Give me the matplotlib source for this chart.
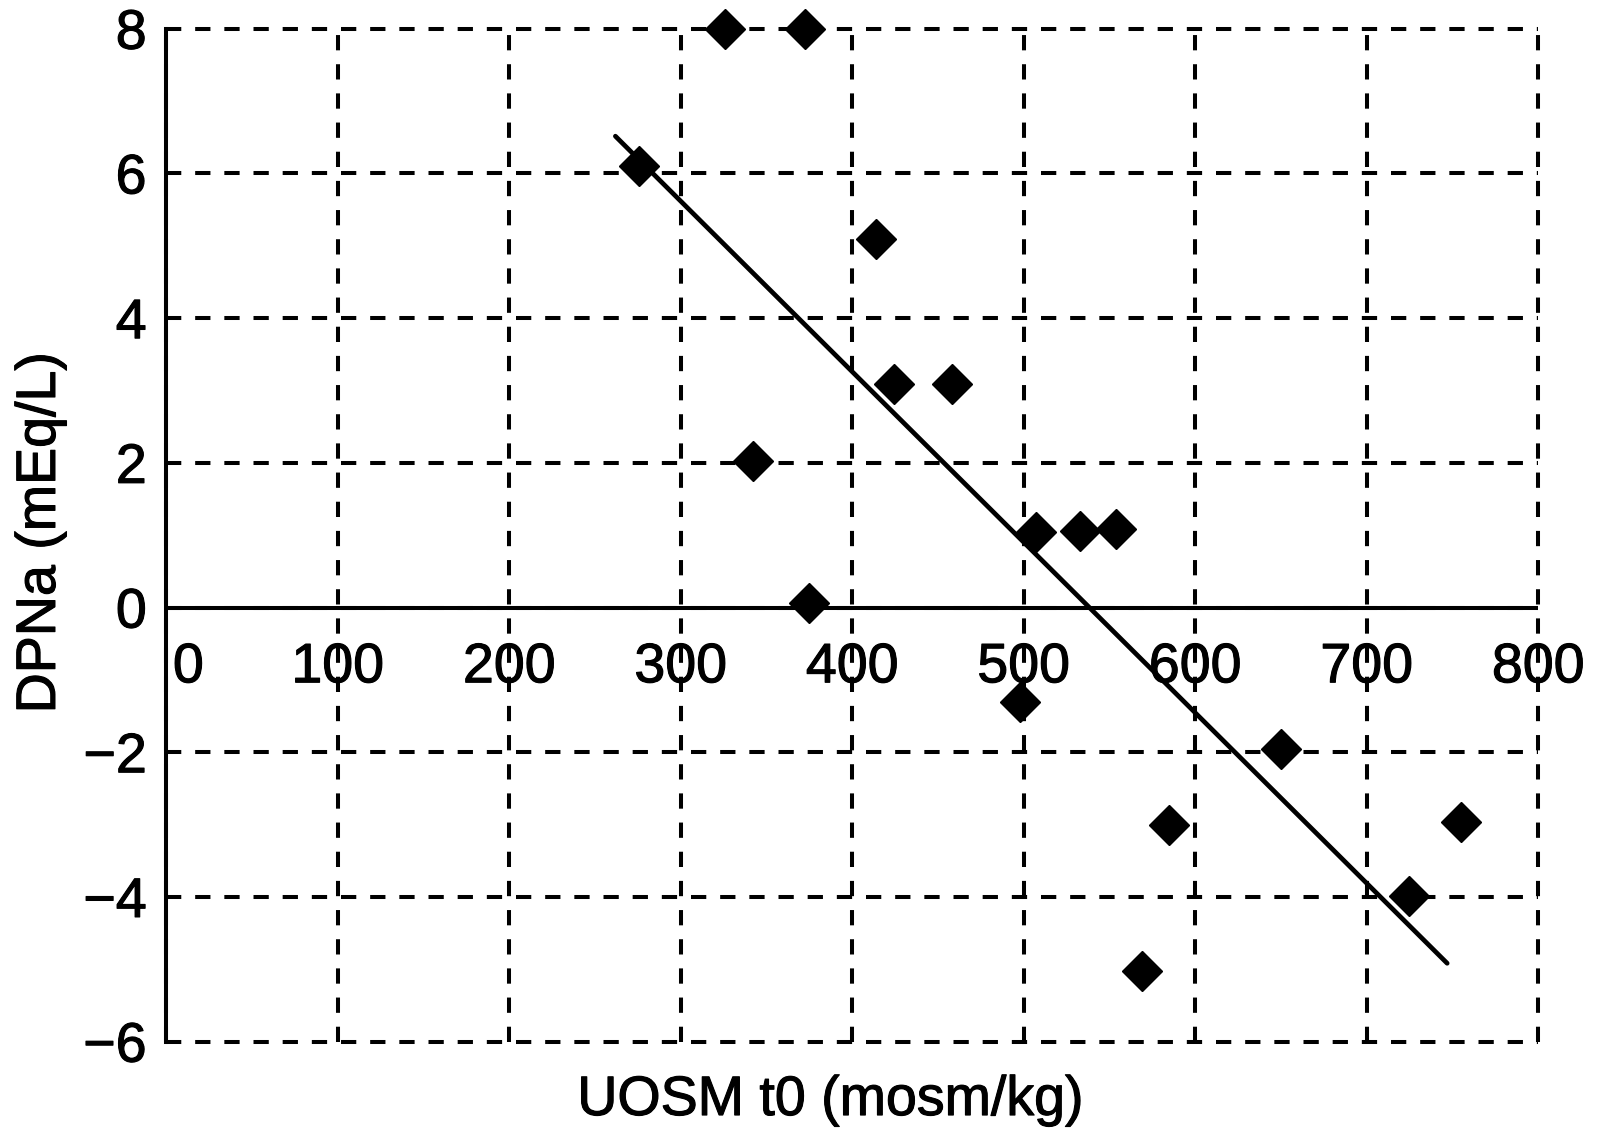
import numpy as np
import matplotlib
matplotlib.use("Agg")
from matplotlib import pyplot as plt
from matplotlib import patheffects

# Urine osmolality at t0 vs change in plasma sodium
uosm = [326, 372.5, 276, 413.7, 424.5, 458, 342, 507.5, 533, 554,
        375, 498, 650, 585, 755, 725, 569]
dpna = [8.0, 8.0, 6.1, 5.1, 3.09, 3.09, 2.03, 1.05, 1.06, 1.08,
        0.06, -1.31, -1.95, -3.0, -2.97, -3.98, -5.02]

# regression line as published
fit_slope = -0.02357
fit_intercept = 12.69
fit_range = [262, 747]

x_ticks = [0, 100, 200, 300, 400, 500, 600, 700, 800]
y_ticks = [-6, -4, -2, 0, 2, 4, 6, 8]
y_tick_labels = ["\u22126", "\u22124", "\u22122", "0", "2", "4", "6", "8"]

plt.rcParams['font.family'] = ['Liberation Sans', 'DejaVu Sans']
plt.rcParams['lines.scale_dashes'] = False

FS = 40
thick = [patheffects.withStroke(linewidth=0.8, foreground='black')]

fig = plt.figure(figsize=(16.06, 11.31), dpi=100)
ax = fig.add_axes([0.1034, 0.0790, 0.8543, 0.8956])

ax.set_xlim(0, 800)
ax.set_ylim(-6, 8)

# dashed grid, including the frame lines at the limits
ax.set_xticks(x_ticks)
ax.set_yticks(y_ticks)
ax.set_yticklabels(y_tick_labels, fontsize=FS)
for lab in ax.get_yticklabels():
    lab.set_path_effects(thick)
ax.tick_params(axis='both', length=0)
ax.tick_params(axis='y', pad=14)
ax.tick_params(axis='x', labelbottom=False)
ax.grid(True, color='black', linewidth=2.9, linestyle=(0, (11, 10)))
for gl in ax.get_xgridlines() + ax.get_ygridlines():
    gl.set_clip_on(False)

for side in ['top', 'right', 'bottom']:
    ax.spines[side].set_visible(False)
ax.spines['left'].set_linewidth(2.9)

# solid zero line
ax.axhline(0, color='black', linewidth=2.9, zorder=3)

# x tick labels sit under the zero line
for i, xt in enumerate(x_ticks):
    dx = 16 if i == 0 else 0
    ax.annotate(str(xt), xy=(xt, 0), xytext=(dx, -25),
                textcoords='offset points', ha='center', va='top',
                fontsize=FS, annotation_clip=False, path_effects=thick)

# points
ax.plot(uosm, dpna, linestyle='none', marker='D', markersize=20,
        color='black', clip_on=False, zorder=5)

# trend line
xf = np.array(fit_range)
ax.plot(xf, fit_slope * xf + fit_intercept, color='black', linewidth=3.4,
        solid_capstyle='round', zorder=4)

fig.text(0.5168, 0.0265, "UOSM t0 (mosm/kg)", fontsize=FS,
         ha='center', va='center', path_effects=thick)
fig.text(0.0255, 0.5287, "DPNa (mEq/L)", fontsize=FS,
         ha='center', va='center', rotation=90, path_effects=thick)

fig.savefig("out.png", dpi=100)
